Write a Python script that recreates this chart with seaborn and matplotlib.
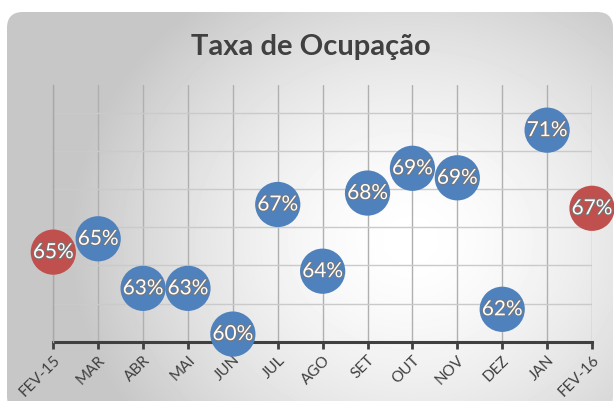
import numpy as np
import pandas as pd
import matplotlib
matplotlib.use("Agg")
import matplotlib.pyplot as plt
import matplotlib.patheffects as pe
from matplotlib.patches import FancyBboxPatch
import seaborn as sns

# ── Data ───────────────────────────────────────────
meses = ["FEV-15", "MAR", "ABR", "MAI", "JUN", "JUL", "AGO",
         "SET", "OUT", "NOV", "DEZ", "JAN", "FEV-16"]
ocupacao = [64.7, 65.4, 62.8, 62.8, 60.4, 67.2, 63.7,
            67.8, 69.1, 68.6, 61.7, 71.1, 67.0]
grupo = ["ref", "mes", "mes", "mes", "mes", "mes", "mes",
         "mes", "mes", "mes", "mes", "mes", "ref"]

df = pd.DataFrame({"pos": range(len(meses)), "mes": meses,
                   "taxa": ocupacao, "grupo": grupo})

sns.set_theme(style="white")
plt.rcParams["font.family"] = ["Lato", "DejaVu Sans"]

W, H = 614, 401
fig = plt.figure(figsize=(W / 100, H / 100), dpi=100)
fig.patch.set_facecolor("white")

# ── Background (rounded frame with radial gradient) ─
bg = fig.add_axes([0, 0, 1, 1], zorder=0)
bg.set_xlim(0, W)
bg.set_ylim(H, 0)
bg.axis("off")
xx, yy = np.meshgrid(np.arange(W), np.arange(H))
d = np.sqrt(((xx - 410) / 340.0) ** 2 + ((yy - 240) / 300.0) ** 2)
shade = 1 - 0.22 * np.clip(d, 0, 1) ** 1.6
img = bg.imshow(shade, cmap="gray", vmin=0, vmax=1,
                extent=(0, W, H, 0), aspect="auto", interpolation="bilinear")
frame = FancyBboxPatch((7, 12), 606, 400,
                       boxstyle="round,pad=0,rounding_size=16",
                       facecolor="none", edgecolor="none")
bg.add_patch(frame)
img.set_clip_path(frame)

# ── Chart ──────────────────────────────────────────
ax = fig.add_axes([53.3 / W, 1 - 341.7 / H, (592 - 53.3) / W, (341.7 - 85) / H],
                  zorder=1)
ax.set_facecolor("none")

sns.scatterplot(data=df, x="pos", y="taxa", hue="grupo",
                palette={"ref": "#C0504D", "mes": "#4F81BD"},
                s=1060, edgecolor="none", legend=False, ax=ax,
                clip_on=False, zorder=3)

for _, r in df.iterrows():
    ax.text(r["pos"], r["taxa"], f"{r['taxa']:.0f}%", color="white",
            fontsize=15, ha="center", va="center", zorder=4,
            path_effects=[pe.withStroke(linewidth=1.4, foreground="#777777")])

ax.set_xlim(0, len(meses) - 1)
ax.set_ylim(60, 73.47)
ax.set_xticks(df["pos"])
ax.set_xticklabels(meses, rotation=45, ha="right", rotation_mode="anchor",
                   color="#404040", fontsize=11)
ax.set_yticks([62, 64, 66, 68, 70, 72])
ax.set_yticklabels([])
ax.tick_params(axis="x", length=5, width=2, color="#404040", pad=3,
               direction="out", bottom=True)
ax.tick_params(axis="y", length=0)
ax.grid(axis="x", color="#b0b0b0", linewidth=1)
ax.grid(axis="y", color="#cacaca", linewidth=1)
ax.set_axisbelow(True)
for s in ["top", "right"]:
    ax.spines[s].set_visible(False)
ax.spines["bottom"].set_color("#404040")
ax.spines["bottom"].set_linewidth(2.2)
ax.spines["bottom"].set_zorder(2)
ax.spines["left"].set_color("#a8a8a8")
ax.spines["left"].set_linewidth(1)
ax.set_xlabel("")
ax.set_ylabel("")

fig.text(311 / W, 1 - 47 / H, "Taxa de Ocupação", ha="center", va="center",
         fontsize=21, fontweight="bold", color="#404040")

fig.savefig("out.png", dpi=100)
